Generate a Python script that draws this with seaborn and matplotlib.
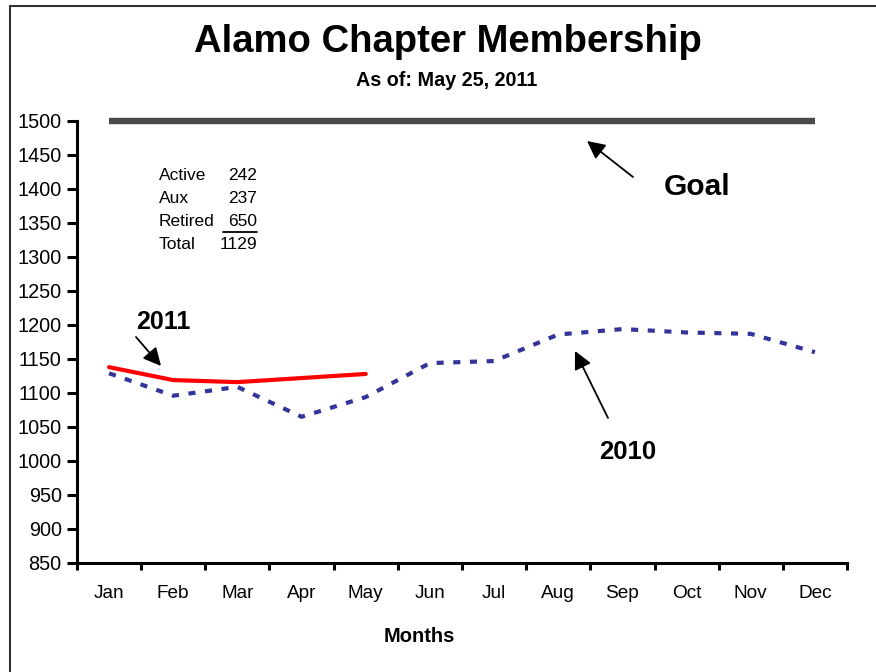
import matplotlib
matplotlib.use("Agg")
import matplotlib.pyplot as plt
import seaborn as sns
import pandas as pd
from matplotlib.lines import Line2D

# ---- data ----
months = ["Jan", "Feb", "Mar", "Apr", "May", "Jun", "Jul", "Aug", "Sep", "Oct", "Nov", "Dec"]
members_2010 = [1129, 1096, 1109, 1065, 1094, 1144, 1147, 1186, 1194, 1189, 1187, 1160]
months_2011 = ["Jan", "Feb", "Mar", "Apr", "May"]
members_2011 = [1138, 1119, 1116, 1122, 1128]
goal = [1500] * 12
y_ticks = list(range(850, 1501, 50))
summary_labels = ["Active", "Aux", "Retired", "Total"]
summary_values = ["242", "237", "650", "1129"]

sns.set_theme(style="white")
plt.rcParams["font.family"] = ["Liberation Sans", "DejaVu Sans"]

W, H = 876, 672
fig = plt.figure(figsize=(W / 100, H / 100), dpi=100)
fig.patch.set_facecolor("white")

def fx(px):
    return px / W

def fy(py):
    return 1 - py / H

ax = fig.add_axes([fx(77), fy(563), fx(847) - fx(77), fy(121) - fy(563)])
ax.set_facecolor("white")

df2010 = pd.DataFrame({"Month": months, "Members": members_2010})
df2011 = pd.DataFrame({"Month": months_2011, "Members": members_2011})
dfgoal = pd.DataFrame({"Month": months, "Members": goal})

sns.lineplot(data=dfgoal, x="Month", y="Members", ax=ax, color="#4a4a4a", sort=False)
ax.lines[-1].set_linewidth(4.6)
ax.lines[-1].set_solid_capstyle("butt")
ax.lines[-1].set_clip_on(False)
sns.lineplot(data=df2010, x="Month", y="Members", ax=ax, color="#333399", sort=False)
ax.lines[-1].set_linewidth(3.0)
ax.lines[-1].set_linestyle((0, (1.7, 2.3)))
ax.lines[-1].set_dash_capstyle("butt")
sns.lineplot(data=df2011, x="Month", y="Members", ax=ax, color="#ff0000", sort=False)
ax.lines[-1].set_linewidth(3.0)
ax.lines[-1].set_solid_capstyle("round")

ax.set_xlim(-0.5, 11.5)
ax.set_ylim(850, 1500)
ax.set_yticks(y_ticks)
ax.set_yticklabels([str(v) for v in y_ticks], fontsize=14.3)
ax.set_xticks(range(len(months)))
ax.set_xticklabels(months, fontsize=13.7)
ax.set_xticks([i - 0.5 for i in range(len(months) + 1)], minor=True)
ax.tick_params(axis="x", which="major", bottom=True, length=0, pad=16)
ax.tick_params(axis="x", which="minor", bottom=True, length=5, width=2.2,
               direction="out", color="black")
ax.tick_params(axis="y", which="major", left=True, length=7, width=2.2,
               direction="out", color="black", pad=4)
ax.tick_params(labelcolor="black")
for s in ["top", "right"]:
    ax.spines[s].set_visible(False)
for s in ["left", "bottom"]:
    ax.spines[s].set_color("black")
    ax.spines[s].set_linewidth(2.2)

ax.set_ylabel("")
ax.set_xlabel("Months", fontsize=14.5, fontweight="bold", color="black")
ax.xaxis.set_label_coords((419 - 77) / 770, (563 - 637) / 442)
ax.xaxis.label.set_va("center")

# titles
fig.text(fx(448), fy(42), "Alamo Chapter Membership", ha="center", va="center",
         fontsize=27.5, fontweight="bold", color="black")
fig.text(fx(447), fy(80), "As of: May 25, 2011", ha="center", va="center",
         fontsize=14.2, fontweight="bold", color="black")

# summary box
rows_y = [175, 198, 221, 245]
for lab, val, py in zip(summary_labels, summary_values, rows_y):
    fig.text(fx(159), fy(py), lab, ha="left", va="center", fontsize=12.5, color="black")
    fig.text(fx(257), fy(py), val, ha="right", va="center", fontsize=12.5, color="black")
fig.add_artist(Line2D([fx(223), fx(257)], [fy(232), fy(232)], color="black", lw=1.3))

# annotations
arrow = dict(arrowstyle="-|>,head_length=0.9,head_width=0.45", lw=1.3, color="black",
             shrinkA=0, shrinkB=0)
def fp(px, py):
    return (px, H - py)

ax.annotate("", xy=fp(587, 141), xytext=fp(633, 177), xycoords="figure pixels",
            textcoords="figure pixels", arrowprops=arrow)
fig.text(fx(697), fy(187), "Goal", ha="center", va="center", fontsize=21.5,
         fontweight="bold", color="black")
ax.annotate("", xy=fp(161, 366), xytext=fp(136, 337), xycoords="figure pixels",
            textcoords="figure pixels", arrowprops=arrow)
fig.text(fx(163), fy(322), "2011", ha="center", va="center", fontsize=18,
         fontweight="bold", color="black")
ax.annotate("", xy=fp(575, 351), xytext=fp(608, 418), xycoords="figure pixels",
            textcoords="figure pixels", arrowprops=arrow)
fig.text(fx(628), fy(452), "2010", ha="center", va="center", fontsize=18.5,
         fontweight="bold", color="black")

# outer border (top and left visible)
fig.add_artist(Line2D([fx(10), fx(10)], [fy(6), fy(H + 5)], color="#333333", lw=1.5))
fig.add_artist(Line2D([fx(10), fx(W + 5)], [fy(6), fy(6)], color="#333333", lw=1.5))

fig.savefig("out.png", dpi=100, facecolor="white")
